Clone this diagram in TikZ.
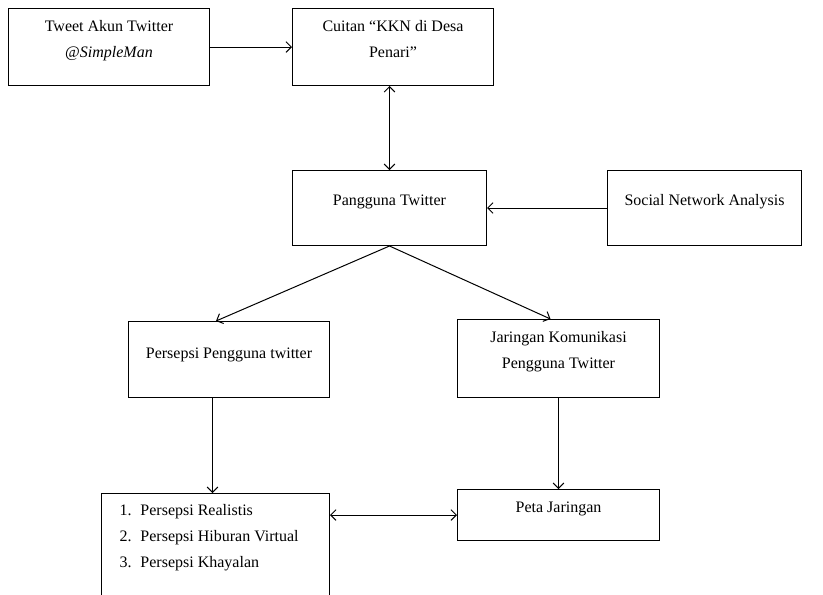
\documentclass[tikz,border=0pt]{standalone}
\usepackage{fontspec}
\setmainfont{Liberation Serif}
\usetikzlibrary{arrows.meta,positioning,calc}
\tikzset{
  flowbox/.style={draw, line width=0.75pt, anchor=north west, align=center,
    inner sep=0pt, font=\fontsize{12}{19.5}\selectfont},
  flowarrow/.style={-{Straight Barb[length=4pt, width=8pt]}, line width=0.75pt},
  flowboth/.style={{Straight Barb[length=4pt, width=8pt]}-{Straight Barb[length=4pt, width=8pt]},
    line width=0.75pt}
}

\begin{document}
\begin{tikzpicture}[x=0.75pt, y=-0.75pt]
    \clip (0,0) rectangle (823,594);
    % top row
    \node[flowbox, minimum width=150.75pt, text height=36.75pt, text depth=21pt] (tweet) at (8,8)
      {Tweet Akun Twitter\\@\textit{SimpleMan}};
    \node[flowbox, minimum width=150.75pt, text height=36.75pt, text depth=21pt] (cuitan) at (292,8)
      {Cuitan “KKN di Desa\\Penari”};
    % middle row
    \node[flowbox, minimum width=145.5pt, text height=26.25pt, text depth=30pt] (pengguna) at (292,170)
      {Pangguna Twitter};
    \node[flowbox, minimum width=145.5pt, text height=26.25pt, text depth=30pt] (sna) at (607,170)
      {Social Network Analysis};
    \node[flowbox, minimum width=150.75pt, text height=27.75pt, text depth=29.25pt] (persepsi) at (128,321)
      {Persepsi Pengguna twitter};
    \node[flowbox, minimum width=151.5pt, text height=36.75pt, text depth=21.75pt] (jaringan) at (457,319)
      {Jaringan Komunikasi\\Pengguna Twitter};
    % bottom row
    \node[flowbox, align=flush left, inner xsep=13.5pt, text width=144pt, text height=16.5pt, text depth=67.5pt] (daftar) at (101,493)
      {\makebox[15.75pt][l]{1.}Persepsi Realistis\\
       \makebox[15.75pt][l]{2.}Persepsi Hiburan Virtual\\
       \makebox[15.75pt][l]{3.}Persepsi Khayalan};
    \node[flowbox, minimum width=151.5pt, text height=17.25pt, text depth=21pt] (peta) at (457,489)
      {Peta Jaringan};

    \draw[flowarrow] (tweet) -- (cuitan);
    \draw[flowboth] (cuitan.south -| pengguna.north) -- (pengguna.north);
    \draw[flowarrow] (sna.west) -- (pengguna.east);
    \draw[flowarrow] (pengguna.south) -- ($(persepsi.north)+(-13,0)$);
    \draw[flowarrow] (pengguna.south) -- ($(jaringan.north)+(-8,0)$);
    \draw[flowarrow] ($(daftar.north |- persepsi.south)+(-3,0)$) -- ($(daftar.north)+(-3,0)$);
    \draw[flowarrow] (jaringan) -- (peta);
    \draw[flowboth] (peta.west -| daftar.east) -- (peta.west);
  \end{tikzpicture}
\end{document}
